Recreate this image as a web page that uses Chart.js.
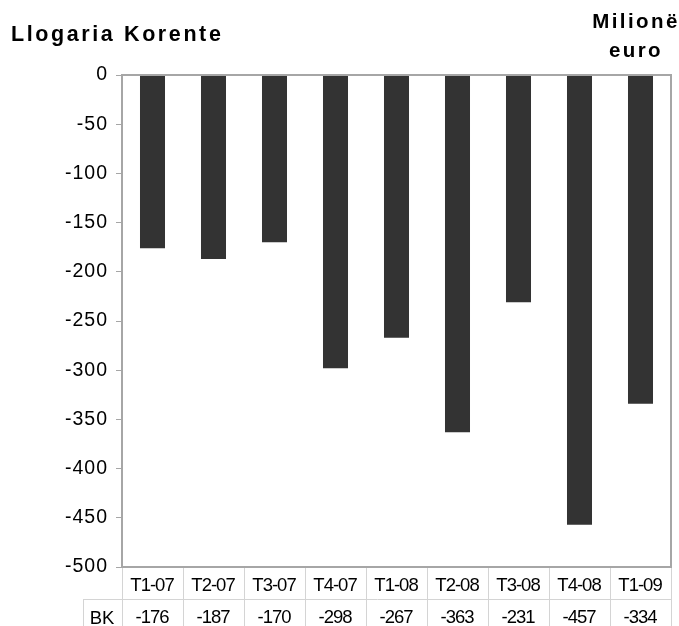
<!DOCTYPE html>
<html>
<head>
<meta charset="utf-8">
<script src="https://cdn.jsdelivr.net/npm/chart.js@4"></script>
<style>
  html, body { margin: 0; padding: 0; background: #fff; }
  #wrap { position: relative; width: 679px; height: 626px; overflow: hidden; }
  #grafik { position: absolute; left: 0; top: 0; }
  .tit { position: absolute; font-family: "Liberation Sans", Arial, sans-serif; font-weight: bold; color: #000; white-space: nowrap; font-size: 20.5px; letter-spacing: 2.4px; }
  #t1 { left: 11px; top: 22px; line-height: 24px; font-size: 21.5px; letter-spacing: 2.6px; }
  #t2 { left: 576px; width: 120px; top: 6px; line-height: 29px; text-align: center; }
</style>
</head>
<body>
<div id="wrap">
  <canvas id="grafik" width="679" height="626"></canvas>
  <div class="tit" id="t1">Llogaria Korente</div>
  <div class="tit" id="t2">Milionë<br>euro</div>
</div>
<script>
const tremujoret = ['T1-07', 'T2-07', 'T3-07', 'T4-07', 'T1-08', 'T2-08', 'T3-08', 'T4-08', 'T1-09'];
const bk = [-176, -187, -170, -298, -267, -363, -231, -457, -334];
const emriSeris = 'BK';

const gri = '#a6a6a6';
const vijaTab = '#d4d4d4';
const shkronja = '"Liberation Sans", Arial, sans-serif';

// korniza e zones se grafikut + tabela e te dhenave poshte
const tabelaPlugin = {
  id: 'tabela',
  beforeDraw(chart) {
    chart.ctx.letterSpacing = '1px'; // per etiketat e boshtit y
  },
  afterDatasetsDraw(chart) {
    const { ctx, chartArea: a, scales: { x } } = chart;
    const r1 = a.bottom + 32;
    const r2 = 640;
    const hap = x.getPixelForValue(1) - x.getPixelForValue(0);
    ctx.save();
    ctx.letterSpacing = '0px';
    // vijat e tabeles
    ctx.strokeStyle = vijaTab;
    ctx.lineWidth = 1;
    ctx.beginPath();
    ctx.moveTo(83, r1 + 0.5); ctx.lineTo(a.right + 1, r1 + 0.5);
    for (let i = 0; i <= tremujoret.length; i++) {
      const px = Math.round(x.getPixelForValue(i) - hap / 2) + 0.5;
      ctx.moveTo(px, a.bottom); ctx.lineTo(px, r2);
    }
    ctx.moveTo(83.5, r1); ctx.lineTo(83.5, r2);
    ctx.stroke();
    // korniza
    ctx.strokeStyle = gri;
    ctx.lineWidth = 2;
    ctx.strokeRect(a.left, a.top, a.right - a.left, a.bottom - a.top);
    // tekstet
    ctx.fillStyle = '#000';
    ctx.textAlign = 'center';
    ctx.textBaseline = 'alphabetic';
    ctx.font = '18.5px ' + shkronja;
    ctx.letterSpacing = '-1px';
    tremujoret.forEach((t, i) => {
      ctx.fillText(t, x.getPixelForValue(i) - 0.5, a.bottom + 24);
      ctx.fillText(String(bk[i]), x.getPixelForValue(i) - 0.5, r1 + 24);
    });
    ctx.letterSpacing = '0px';
    ctx.fillText(emriSeris, 102, r1 + 25);
    ctx.restore();
  }
};

new Chart(document.getElementById('grafik'), {
  type: 'bar',
  data: {
    labels: tremujoret,
    datasets: [{
      label: emriSeris,
      data: bk,
      backgroundColor: '#333333',
      borderWidth: 0,
      barPercentage: 0.41,
      categoryPercentage: 1.0
    }]
  },
  options: {
    responsive: false,
    animation: false,
    layout: { padding: { left: 0, right: 8, top: 75, bottom: 59 } },
    plugins: { legend: { display: false }, tooltip: { enabled: false }, title: { display: false } },
    scales: {
      x: { display: false, offset: true },
      y: {
        min: -500,
        max: 0,
        afterFit(s) { s.width = 122; },
        border: { display: true, color: gri, width: 2 },
        grid: { drawOnChartArea: false, drawTicks: true, tickLength: 6, color: gri, lineWidth: 1 },
        ticks: {
          stepSize: 50,
          padding: 8,
          color: '#000',
          font: { family: shkronja, size: 19.5 }
        }
      }
    }
  },
  plugins: [tabelaPlugin]
});
</script>
</body>
</html>
